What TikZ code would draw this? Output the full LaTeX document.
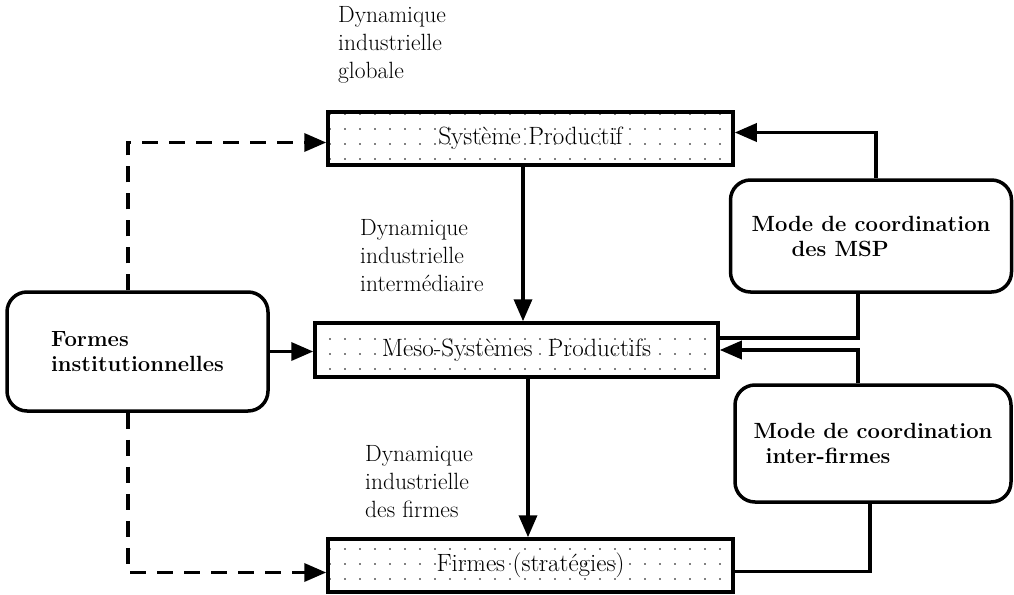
\documentclass[tikz,border=0pt]{standalone}
\usepackage{fontspec}
\usepackage{tikz}
\usetikzlibrary{arrows.meta, positioning, patterns.meta}

\tikzset{
  dotbox/.style={draw, line width=3.5pt, minimum width=405pt, minimum height=53pt,
    inner sep=0pt, pattern={Dots[distance=15pt, radius=0.9pt]},
    font=\fontsize{25}{28}\selectfont},
  roundbox/.style={draw, line width=3.5pt, rounded corners=20pt, align=left,
    font=\fontsize{22}{25}\selectfont\bfseries},
  lab/.style={align=left, anchor=north west, inner sep=0pt},
  arr/.style={line width=3.5pt, -{Triangle[length=22pt, width=18pt]}},
  dasharr/.style={arr, dash pattern=on 16pt off 11pt},
  link/.style={line width=3.5pt},
}

\begin{document}
\begin{tikzpicture}[x=1pt, y=-1pt, font=\fontsize{23.5}{28}\selectfont]
  \useasboundingbox (0,0) rectangle (1014,594);

  % middle column
  \node[dotbox] (sp) at (530.5,138.5) {Système Productif};
  \node[dotbox, minimum width=403pt, minimum height=54pt] (meso) at (516.5,350) {Meso-Systèmes\ \ Productifs};
  \node[dotbox] (firmes) at (530.5,565.5) {Firmes (stratégies)};

  \node[lab] (dyn1) at (338,6) {Dynamique\\industrielle\\globale};
  \node[lab] (dyn2) at (360,219) {Dynamique\\industrielle\\intermédiaire};
  \node[lab] (dyn3) at (365,445) {Dynamique\\industrielle\\des firmes};

  % side boxes
  \node[roundbox, minimum width=261pt, minimum height=119pt] (formes) at (137.5,351.5)
    {Formes\\institutionnelles};
  \node[roundbox, minimum width=281pt, minimum height=112pt] (cmsp) at (871,236)
    {Mode de coordination\\\hspace*{40pt}des MSP};
  \node[roundbox, minimum width=276pt, minimum height=117pt] (cinter) at (873,443.5)
    {Mode de coordination\\\hspace*{12pt}inter-firmes};

  \coordinate (xa) at (523,0);
  \coordinate (xb) at (528,0);
  \coordinate (xd) at (128,0);
  \coordinate (xm) at (876,0);
  \coordinate (xn) at (858,0);
  \coordinate (xf) at (870,0);

  \draw[arr] (sp.south -| xa) -- (meso.north -| xa);
  \draw[arr] (meso.south -| xb) -- (firmes.north -| xb);
  \draw[arr] (formes.east) -- (formes.east -| meso.west);

  \draw[dasharr] (formes.north -| xd) |- ([yshift=-4pt]sp.west);
  \draw[dasharr] (formes.south -| xd) |- ([yshift=-7pt]firmes.west);

  \draw[arr] (cmsp.north -| xm) |- ([yshift=6pt]sp.east);
  \draw[link] (cmsp.south -| xn) |- ([yshift=12pt]meso.east);
  \draw[arr] (cinter.north -| xn) |- (meso.east);
  \draw[link] (cinter.south -| xf) |- ([yshift=-6pt]firmes.east);
\end{tikzpicture}
\end{document}
